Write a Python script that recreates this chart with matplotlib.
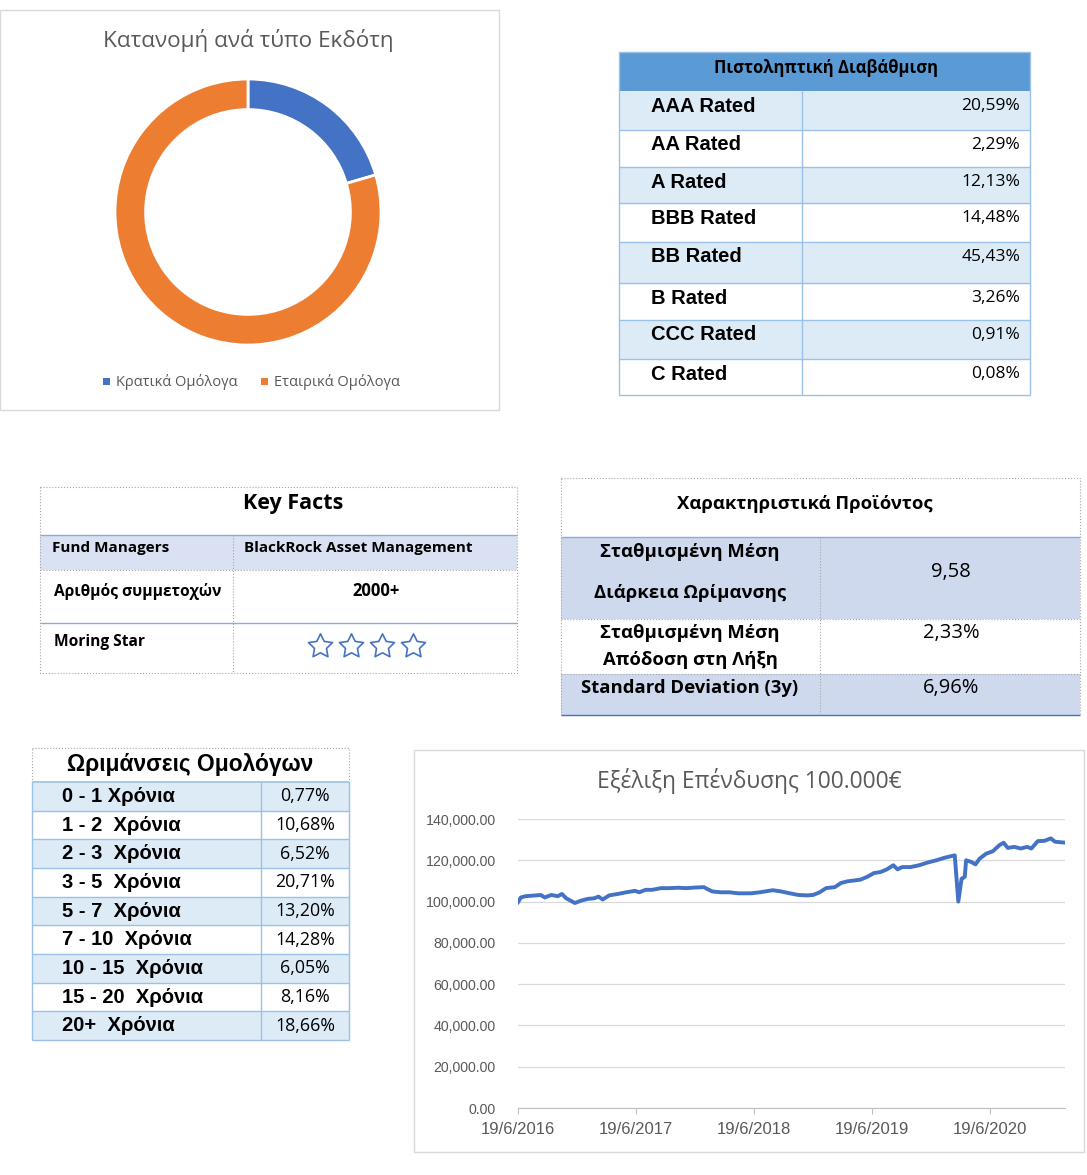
import matplotlib
matplotlib.use("Agg")
import matplotlib.pyplot as plt
from matplotlib.patches import Rectangle
from matplotlib.ticker import FuncFormatter, FixedLocator
import matplotlib.dates as mdates
import pandas as pd

# ---- data ----
issuer_labels = ["Κρατικά Ομόλογα", "Εταιρικά Ομόλογα"]
issuer_share = [20.5, 79.5]
issuer_colors = ["#4472C4", "#ED7D31"]

rating_labels = ["AAA Rated", "AA Rated", "A Rated", "BBB Rated",
                 "BB Rated", "B Rated", "CCC Rated", "C Rated"]
rating_pct = [20.59, 2.29, 12.13, 14.48, 45.43, 3.26, 0.91, 0.08]

fact_labels = ["Fund Managers", "Αριθμός συμμετοχών", "Moring Star"]
fact_values = ["BlackRock Asset Management", "2000+", ""]
morningstar_stars = 4

char_labels = [["Σταθμισμένη Μέση", "Διάρκεια Ωρίμανσης"],
               ["Σταθμισμένη Μέση", "Απόδοση στη Λήξη"],
               ["Standard Deviation (3y)"]]
char_values = ["9,58", "2,33%", "6,96%"]

maturity_labels = ["0 - 1 Χρόνια", "1 - 2  Χρόνια", "2 - 3  Χρόνια", "3 - 5  Χρόνια",
                   "5 - 7  Χρόνια", "7 - 10  Χρόνια", "10 - 15  Χρόνια",
                   "15 - 20  Χρόνια", "20+  Χρόνια"]
maturity_pct = [0.77, 10.68, 6.52, 20.71, 13.20, 14.28, 6.05, 8.16, 18.66]

inv_dates = ["2016-06-19", "2016-06-28", "2016-07-12", "2016-08-14", "2016-08-28",
             "2016-09-10", "2016-09-30", "2016-10-20", "2016-11-02", "2016-11-15",
             "2016-12-12", "2017-01-01", "2017-01-21", "2017-02-10", "2017-02-23",
             "2017-03-08", "2017-03-28", "2017-04-24", "2017-05-20", "2017-06-16",
             "2017-06-29", "2017-07-19", "2017-08-08", "2017-09-04", "2017-09-30",
             "2017-10-27", "2017-11-22", "2017-12-19", "2018-01-15", "2018-01-28",
             "2018-02-10", "2018-03-09", "2018-04-04", "2018-05-01", "2018-06-10",
             "2018-07-07", "2018-08-16", "2018-09-11", "2018-10-08", "2018-11-03",
             "2018-11-30", "2018-12-19", "2019-01-08", "2019-01-28", "2019-02-24",
             "2019-03-15", "2019-04-04", "2019-04-24", "2019-05-14", "2019-06-03",
             "2019-06-25", "2019-07-15", "2019-08-04", "2019-08-24", "2019-09-06",
             "2019-09-20", "2019-10-16", "2019-11-12", "2019-12-08", "2020-01-04",
             "2020-01-31", "2020-03-01", "2020-03-12", "2020-03-22", "2020-04-01",
             "2020-04-05", "2020-04-21", "2020-05-04", "2020-05-17", "2020-06-06",
             "2020-06-27", "2020-07-17", "2020-07-30", "2020-08-12", "2020-09-01",
             "2020-09-21", "2020-10-11", "2020-10-24", "2020-11-13", "2020-12-03",
             "2020-12-23", "2021-01-05", "2021-02-01"]
inv_values = [99700, 102000, 102600, 103000, 103200, 102000, 103200, 102600, 103700, 101600,
              99300, 100500, 101300, 101600, 102400, 101000, 103000, 103700, 104500, 105200,
              104500, 105700, 105700, 106500, 106500, 106700, 106500, 106800, 107000, 105900,
              104900, 104500, 104500, 104000, 104000, 104500, 105500, 104900, 104000, 103200,
              103000, 103200, 104500, 106500, 107000, 109000, 109800, 110200, 110600, 111900,
              113800, 114300, 115600, 117600, 115600, 116700, 116700, 117600, 118900, 120000,
              121300, 122400, 100000, 111000, 112000, 120000, 119200, 118000, 120800, 123200,
              124400, 127300, 128500, 126000, 126500, 125700, 126500, 125700, 129300, 129400,
              130600, 129000, 128600]
x_tick_labels = ["19/6/2016", "19/6/2017", "19/6/2018", "19/6/2019", "19/6/2020"]


def pct(v):
    return f"{v:.2f}".replace(".", ",") + "%"


CAL = ["Open Sans", "DejaVu Sans"]
ARL = ["Liberation Sans", "DejaVu Sans"]
GRAY = "#595959"
LBLUE = "#DDEBF7"
LINEB = "#9BC2E6"

W, H = 1087, 1175
fig = plt.figure(figsize=(W / 100, H / 100), dpi=100)
bg = fig.add_axes([0, 0, 1, 1])
bg.set_xlim(0, W)
bg.set_ylim(H, 0)
bg.axis("off")


def box(x0, y0, x1, y1, fc="none", ec="none", lw=1.0, ls="-"):
    bg.add_patch(Rectangle((x0, y0), x1 - x0, y1 - y0, facecolor=fc,
                           edgecolor=ec, lw=lw, ls=ls))


def line(xs, ys, color, lw=1.0, ls="-"):
    bg.plot(xs, ys, color=color, lw=lw, ls=ls, solid_capstyle="butt")


def txt(x, y, s, size, ha="left", bold=False, font=CAL, color="black"):
    bg.text(x, y, s, fontsize=size, ha=ha, va="center", family=font,
            fontweight="bold" if bold else "normal", color=color)


def axes_px(x0, y0, x1, y1):
    return fig.add_axes([x0 / W, 1 - y1 / H, (x1 - x0) / W, (y1 - y0) / H])


# ---- donut panel ----
box(0, 10, 499, 410, ec="#D9D9D9")
txt(248, 41, "Κατανομή ανά τύπο Εκδότη", 16.2, ha="center", color=GRAY)
dax = axes_px(115, 79, 381, 345)
dax.pie(issuer_share, colors=issuer_colors, startangle=90, counterclock=False,
        radius=1, wedgeprops=dict(width=0.23, edgecolor="white", linewidth=2))
dax.set_xlim(-1, 1)
dax.set_ylim(-1, 1)
dax.set_aspect("equal")
leg_x = [103, 261]
for lx, lab, c in zip(leg_x, issuer_labels, issuer_colors):
    box(lx, 378, lx + 7, 385, fc=c)
    txt(lx + 13, 382, lab, 10.5, color=GRAY)

# ---- rating table ----
r_rows = [91, 130, 167, 203, 242, 283, 320, 359, 395]
rx0, rxm, rx1 = 619, 802, 1030
box(rx0, 52, rx1, 91, fc="#5B9BD5")
txt(826, 68, "Πιστοληπτική Διαβάθμιση", 12, ha="center", bold=True)
for i, (lab, v) in enumerate(zip(rating_labels, rating_pct)):
    top, bot = r_rows[i], r_rows[i + 1]
    if i % 2 == 0:
        box(rx0, top, rx1, bot, fc=LBLUE)
    txt(651, top + 15, lab, 14.5, bold=True, font=ARL)
    txt(1020, top + 15, pct(v), 12.5, ha="right")
for y in r_rows[1:-1]:
    line([rx0, rx1], [y, y], LINEB)
line([rxm, rxm], [91, 395], LINEB)
box(rx0, 52, rx1, 395, ec=LINEB)

# ---- key facts ----
kx0, kxm, kx1 = 40, 233, 517
box(kx0, 535, kx1, 570, fc="#D9E1F2")
txt(293, 504, "Key Facts", 15.5, ha="center", bold=True)
line([kx0, kx1], [535, 535], "#8EA9DB")
line([kx0, kx1], [570, 570], "#A6A6A6", lw=0.8, ls=":")
line([kx0, kx1], [623, 623], "#8EA9DB")
line([kxm, kxm], [535, 673], "#A6A6A6", lw=0.8, ls=":")
box(kx0, 487, kx1, 673, ec="#A6A6A6", lw=0.8, ls=":")
txt(52, 548, fact_labels[0], 11, bold=True)
txt(244, 548, fact_values[0], 11, bold=True)
txt(54, 591, fact_labels[1], 11.2, bold=True)
txt(376, 591, fact_values[1], 12, ha="center", bold=True)
txt(54, 642, fact_labels[2], 11.2, bold=True)
star_x = [320 + 31 * k for k in range(morningstar_stars)]
bg.scatter(star_x, [646] * morningstar_stars, marker=(5, 1, 0), s=330,
           facecolors="white", edgecolors="#4472C4", linewidths=1.2, zorder=5)

# ---- product characteristics ----
cx0, cxm, cx1 = 561, 820, 1080
CFILL = "#CFD9EE"
box(cx0, 537, cx1, 619, fc=CFILL)
box(cx0, 674, cx1, 715, fc=CFILL)
txt(805, 504, "Χαρακτηριστικά Προϊόντος", 13.3, ha="center", bold=True)
line([cx0, cx1], [537, 537], "#8EA9DB")
line([cx0, cx1], [619, 619], "#A6A6A6", lw=0.8, ls=":")
line([cx0, cx1], [674, 674], "#A6A6A6", lw=0.8, ls=":")
line([cx0, cx1], [715, 715], "#4472C4")
line([cxm, cxm], [537, 715], "#A6A6A6", lw=0.8, ls=":")
box(cx0, 478, cx1, 715, ec="#A6A6A6", lw=0.8, ls=":")
char_label_y = [[552, 593], [633, 660], [688]]
char_value_y = [572, 633, 688]
for labs, ys, val, vy in zip(char_labels, char_label_y, char_values, char_value_y):
    for lab, y in zip(labs, ys):
        txt(690, y, lab, 13.3, ha="center", bold=True)
    txt(951, vy, val, 14.5, ha="center")

# ---- maturities ----
mx0, mxm, mx1 = 32, 261, 349
m_top, m_h = 782, 28.67
box(mx0, 748, mx1, 1040, ec="#A6A6A6", lw=0.8, ls=":")
txt(190, 765, "Ωριμάνσεις Ομολόγων", 16.4, ha="center", bold=True, font=ARL)
for i, (lab, v) in enumerate(zip(maturity_labels, maturity_pct)):
    top = m_top + i * m_h
    if i % 2 == 0:
        box(mx0, top, mx1, top + m_h, fc=LBLUE)
    txt(62, top + m_h / 2, lab, 14.5, bold=True, font=ARL)
    txt(305, top + m_h / 2, pct(v), 12.8, ha="center")
for i in range(len(maturity_labels) + 1):
    y = m_top + i * m_h
    line([mx0, mx1], [y, y], LINEB, lw=1.2 if i == 0 else 1.0)
line([mxm, mxm], [m_top, m_top + 9 * m_h], LINEB)
line([mx0, mx0], [m_top, m_top + 9 * m_h], LINEB)
line([mx1, mx1], [m_top, m_top + 9 * m_h], LINEB)

# ---- investment growth chart ----
box(414, 750, 1084, 1152, ec="#D9D9D9")
txt(749, 781, "Εξέλιξη Επένδυσης 100.000€", 16.4, ha="center", color=GRAY)
lax = axes_px(518, 819, 1065, 1108)
dates = pd.to_datetime(inv_dates)
lax.plot(dates, inv_values, color="#4472C4", lw=2.8, solid_joinstyle="round")
lax.set_ylim(0, 140000)
lax.set_yticks(range(0, 140001, 20000))
lax.yaxis.set_major_formatter(FuncFormatter(lambda v, p: f"{v:,.2f}"))
tick_dates = pd.to_datetime(x_tick_labels, format="%d/%m/%Y")
lax.xaxis.set_major_locator(FixedLocator(mdates.date2num(tick_dates)))
lax.set_xticklabels(x_tick_labels)
lax.set_xlim(pd.Timestamp("2016-06-19"), pd.Timestamp("2021-02-05"))
lax.grid(axis="y", color="#D9D9D9", lw=0.9)
lax.set_axisbelow(True)
for s in ["top", "right", "left"]:
    lax.spines[s].set_visible(False)
lax.spines["bottom"].set_color("#BFBFBF")
lax.tick_params(axis="y", length=0, pad=16, labelsize=10.2, labelcolor=GRAY)
lax.tick_params(axis="x", length=4, color="#BFBFBF", pad=6, labelsize=12, labelcolor=GRAY)
for lab in lax.get_xticklabels() + lax.get_yticklabels():
    lab.set_family(ARL)

bg.set_xlim(0, W)
bg.set_ylim(H, 0)
fig.savefig("out.png", dpi=100)
